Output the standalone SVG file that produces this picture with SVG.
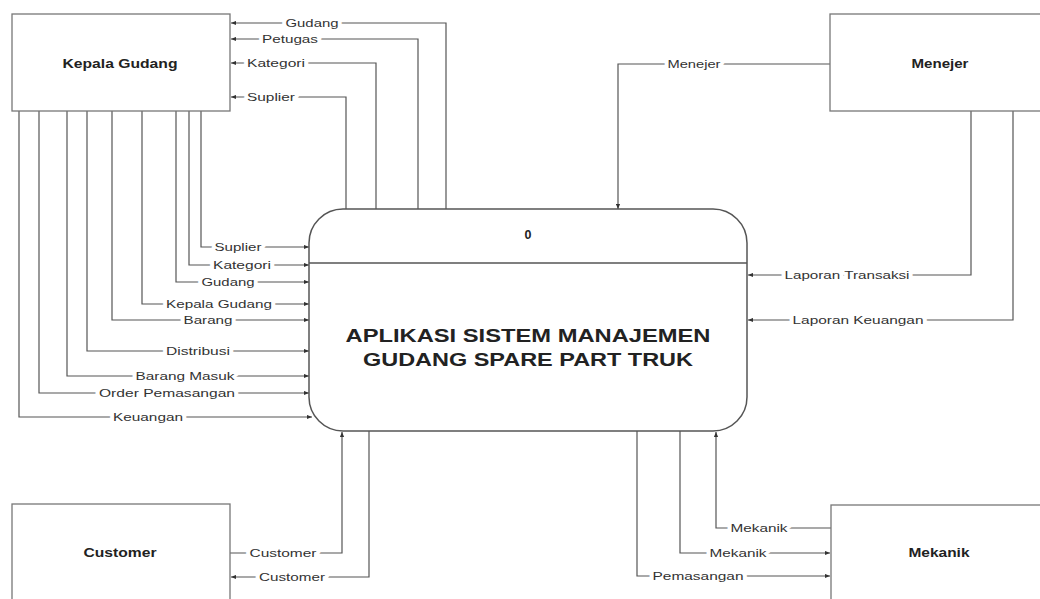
<svg xmlns="http://www.w3.org/2000/svg" width="1040" height="599" viewBox="0 0 1040 599">
<style>
.box{fill:#fff;stroke:#777;stroke-width:1.3}
.proc{fill:#fff;stroke:#555;stroke-width:1.5}
.ln{fill:none;stroke:#555;stroke-width:1.2;marker-end:url(#ah)}
.lbl{font-family:"Liberation Sans",Arial,sans-serif;font-size:11px;fill:#333;text-anchor:middle;stroke:#fff;stroke-width:6;paint-order:stroke;stroke-linejoin:round}
.nt{font-family:"Liberation Sans",Arial,sans-serif;font-size:12.5px;font-weight:bold;fill:#222;text-anchor:middle}
.pt{font-family:"Liberation Sans",Arial,sans-serif;font-size:19px;font-weight:bold;fill:#222;text-anchor:middle}
</style>
<defs>
<marker id="ah" viewBox="0 0 6 6" refX="6" refY="3" markerWidth="5" markerHeight="5" orient="auto" markerUnits="userSpaceOnUse">
<path d="M0,0.5 L6,3 L0,5.5 Z" fill="#333"/>
</marker>
</defs>
<rect width="1040" height="599" fill="#fff"/>
<g id="connectors">
<path class="ln" d="M446,209 V23 H231"/>
<path class="ln" d="M418,209 V39 H231"/>
<path class="ln" d="M376,209 V63 H231"/>
<path class="ln" d="M346,209 V97 H231"/>
<path class="ln" d="M201,111 V247 H309"/>
<path class="ln" d="M189,111 V265 H309"/>
<path class="ln" d="M176,111 V282 H309"/>
<path class="ln" d="M142,111 V304 H309"/>
<path class="ln" d="M112,111 V320 H309"/>
<path class="ln" d="M87,111 V351 H309"/>
<path class="ln" d="M67,111 V376 H309"/>
<path class="ln" d="M39,111 V393 H309"/>
<path class="ln" d="M19,111 V417 H312"/>
<path class="ln" d="M830,64 H618 V209"/>
<path class="ln" d="M971,111 V275 H748"/>
<path class="ln" d="M1013,111 V320 H748"/>
<path class="ln" d="M230,553 H342 V432"/>
<path class="ln" d="M369,431 V577 H231"/>
<path class="ln" d="M831,528 H716 V432"/>
<path class="ln" d="M680,431 V553 H830"/>
<path class="ln" d="M637,431 V576 H830"/>
<text class="lbl" x="312" y="27" textLength="53" lengthAdjust="spacingAndGlyphs">Gudang</text>
<text class="lbl" x="290" y="43" textLength="56" lengthAdjust="spacingAndGlyphs">Petugas</text>
<text class="lbl" x="276" y="67" textLength="58" lengthAdjust="spacingAndGlyphs">Kategori</text>
<text class="lbl" x="271" y="101" textLength="48" lengthAdjust="spacingAndGlyphs">Suplier</text>
<text class="lbl" x="238" y="251" textLength="47" lengthAdjust="spacingAndGlyphs">Suplier</text>
<text class="lbl" x="242" y="269" textLength="58" lengthAdjust="spacingAndGlyphs">Kategori</text>
<text class="lbl" x="228" y="286" textLength="53" lengthAdjust="spacingAndGlyphs">Gudang</text>
<text class="lbl" x="219" y="308" textLength="106" lengthAdjust="spacingAndGlyphs">Kepala Gudang</text>
<text class="lbl" x="208" y="324" textLength="49" lengthAdjust="spacingAndGlyphs">Barang</text>
<text class="lbl" x="198" y="355" textLength="64" lengthAdjust="spacingAndGlyphs">Distribusi</text>
<text class="lbl" x="185" y="380" textLength="99" lengthAdjust="spacingAndGlyphs">Barang Masuk</text>
<text class="lbl" x="167" y="397" textLength="136" lengthAdjust="spacingAndGlyphs">Order Pemasangan</text>
<text class="lbl" x="148" y="421" textLength="70" lengthAdjust="spacingAndGlyphs">Keuangan</text>
<text class="lbl" x="694" y="68" textLength="53" lengthAdjust="spacingAndGlyphs">Menejer</text>
<text class="lbl" x="847" y="279" textLength="125" lengthAdjust="spacingAndGlyphs">Laporan Transaksi</text>
<text class="lbl" x="858" y="324" textLength="131" lengthAdjust="spacingAndGlyphs">Laporan Keuangan</text>
<text class="lbl" x="283" y="557" textLength="67" lengthAdjust="spacingAndGlyphs">Customer</text>
<text class="lbl" x="292" y="581" textLength="66" lengthAdjust="spacingAndGlyphs">Customer</text>
<text class="lbl" x="759" y="532" textLength="57" lengthAdjust="spacingAndGlyphs">Mekanik</text>
<text class="lbl" x="738" y="557" textLength="57" lengthAdjust="spacingAndGlyphs">Mekanik</text>
<text class="lbl" x="698" y="580" textLength="91" lengthAdjust="spacingAndGlyphs">Pemasangan</text>
</g>
<g id="kepala-gudang">
<rect class="box" x="12" y="14" width="218" height="97"/>
<text class="nt" x="120" y="68" textLength="115" lengthAdjust="spacingAndGlyphs">Kepala Gudang</text>
</g>
<g id="menejer">
<rect class="box" x="830" y="14" width="220" height="97"/>
<text class="nt" x="940" y="68" textLength="57" lengthAdjust="spacingAndGlyphs">Menejer</text>
</g>
<g id="customer">
<rect class="box" x="12" y="504" width="218" height="110"/>
<text class="nt" x="120" y="557" textLength="73" lengthAdjust="spacingAndGlyphs">Customer</text>
</g>
<g id="mekanik">
<rect class="box" x="831" y="505" width="220" height="110"/>
<text class="nt" x="939" y="557" textLength="61" lengthAdjust="spacingAndGlyphs">Mekanik</text>
</g>
<g id="process-0">
<rect class="proc" x="309" y="209" width="438" height="222" rx="34" ry="34"/>
<line x1="309" y1="263" x2="747" y2="263" stroke="#555" stroke-width="1.3"/>
<text class="nt" x="528" y="239" font-size="11">0</text>
<text class="pt" x="528" y="342" textLength="365" lengthAdjust="spacingAndGlyphs">APLIKASI SISTEM MANAJEMEN</text>
<text class="pt" x="528" y="366" textLength="330" lengthAdjust="spacingAndGlyphs">GUDANG SPARE PART TRUK</text>
</g>
</svg>
